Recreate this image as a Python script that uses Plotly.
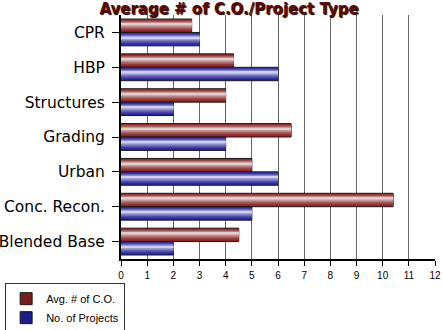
import plotly.graph_objects as go

# Data
categories = ["CPR", "HBP", "Structures", "Grading", "Urban", "Conc. Recon.", "Blended Base"]
avg_change_orders = [2.7, 4.3, 4, 6.5, 5, 10.4, 4.5]
num_projects = [3, 6, 2, 4, 6, 5, 2]
x_ticks = list(range(0, 13))

series = [
    ("Avg. # of C.O.", avg_change_orders, (100, 20, 20), (145, 38, 38), (222, 208, 208), -0.385),
    ("No. of Projects", num_projects, (20, 20, 110), (40, 40, 160), (208, 208, 232), 0.0),
]

BAR_W = 0.385
LAYERS = 10


def mix(c1, c2, t):
    return "rgb(%d,%d,%d)" % tuple(round(a + (b - a) * t) for a, b in zip(c1, c2))


fig = go.Figure()

# Each series is drawn as a stack of overlaid bars that narrow toward the
# centre and lighten, giving the rounded "tube" shading.
for name, values, edge, base, light, start in series:
    centre = start + BAR_W / 2
    for k in range(LAYERS):
        frac = 1 - k / LAYERS
        half = BAR_W / 2 * frac
        c = centre - 0.12 * BAR_W * (k / LAYERS)
        if k == 0:
            col = mix(edge, base, 0.5)
        else:
            col = mix(base, light, ((k - 1) / (LAYERS - 2)) ** 1.4)
        fig.add_trace(go.Bar(
            y=categories,
            x=values,
            orientation="h",
            name=name,
            legendgroup=name,
            showlegend=(k == 0),
            offset=c - half,
            width=2 * half,
            marker=dict(
                color=col,
                line=dict(color="#1a1a1a", width=1 if k == 0 else 0),
            ),
            hoverinfo="skip" if k else "x+y",
        ))

fig.update_layout(
    width=443,
    height=330,
    barmode="overlay",
    paper_bgcolor="white",
    plot_bgcolor="white",
    margin=dict(l=121, r=8, t=15, b=71, autoexpand=False),
    title=dict(
        text="<b>Average # of C.O./Project Type</b>",
        x=0.517,
        xanchor="center",
        xref="container",
        y=0.975,
        yanchor="middle",
        yref="container",
        font=dict(family="DejaVu Sans", size=15, color="#5e0808",
                  shadow="1px 1px 1px #000"),
    ),
    xaxis=dict(
        range=[0, 12],
        tickvals=x_ticks,
        ticktext=[str(v) for v in x_ticks],
        showgrid=True,
        gridcolor="#666666",
        gridwidth=1,
        zeroline=False,
        showline=True,
        linecolor="black",
        linewidth=2,
        ticks="outside",
        ticklen=5,
        tickcolor="black",
        ticklabelstandoff=1,
        automargin=False,
        tickfont=dict(family="Liberation Sans", size=10, color="black"),
    ),
    yaxis=dict(
        categoryorder="array",
        categoryarray=categories,
        autorange="reversed",
        showgrid=False,
        zeroline=False,
        showline=True,
        linecolor="black",
        linewidth=2,
        ticks="outside",
        ticklen=7,
        tickcolor="black",
        ticklabelstandoff=4,
        automargin=False,
        tickfont=dict(family="DejaVu Sans", size=15.5, color="black"),
    ),
    legend=dict(
        x=-0.369,
        xanchor="left",
        y=-0.099,
        yanchor="top",
        bordercolor="#333333",
        borderwidth=1,
        bgcolor="white",
        font=dict(family="Liberation Sans", size=11, color="black"),
        tracegroupgap=0,
    ),
)

fig.write_html("out.html")
